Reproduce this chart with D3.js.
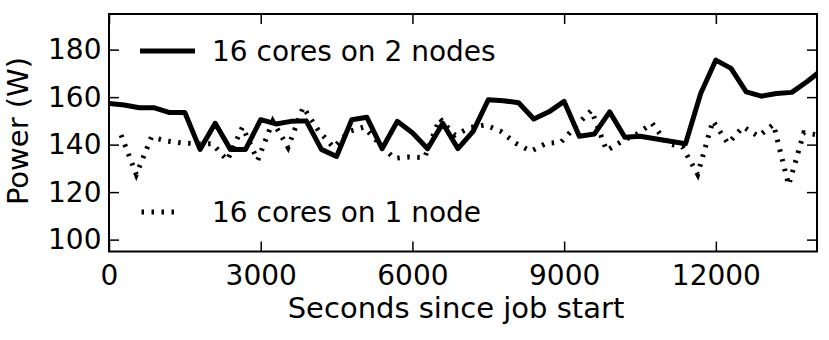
<!DOCTYPE html>
<html>
<head>
<style>
  body { margin: 0; background: #fff; }
  text { font-family: "DejaVu Sans", sans-serif; fill: #000; }
</style>
</head>
<body>
<script src="https://cdn.jsdelivr.net/npm/d3@7"></script>
<script>
// two-node run, sampled every 300 s
var timeTwoNodes = [0, 300, 600, 900, 1200, 1500, 1800, 2100, 2400, 2700, 3000, 3300,
    3600, 3900, 4200, 4500, 4800, 5100, 5400, 5700, 6000, 6300, 6600, 6900,
    7200, 7500, 7800, 8100, 8400, 8700, 9000, 9300, 9600, 9900, 10200, 10500,
    10800, 11100, 11400, 11700, 12000, 12300, 12600, 12900, 13200, 13500, 13800, 14100];
var powerTwoNodes = [157.3, 156.7, 155.5, 155.5, 153.5, 153.5, 138, 149, 138, 138, 150.5, 148.7,
    149.8, 150, 138, 135, 150.5, 151.5, 138.3, 149.8, 145, 138.3, 149, 138.3,
    145.6, 158.9, 158.5, 157.6, 150.8, 153.8, 158.2, 143.5, 144.5, 153.8, 143.1, 143.5,
    142.5, 141.4, 140.4, 161.5, 175.6, 172.1, 162.2, 160.4, 161.5, 162, 166.5, 171.5];

// one-node run
var timeOneNode = [240, 540, 840, 1140, 1440, 1740, 2040, 2340, 2640, 2940, 3240, 3540,
    3840, 4140, 4440, 4740, 5040, 5340, 5640, 5940, 6240, 6540, 6840, 7140,
    7440, 7740, 8040, 8340, 8640, 8940, 9240, 9540, 9840, 10140, 10440, 10740,
    11040, 11340, 11640, 11940, 12240, 12540, 12840, 13140, 13440, 13740, 14040];
var powerOneNode = [144, 127.4, 143.2, 141.5, 140.7, 140.4, 140.4, 133.4, 147.4, 133.4, 149.8, 138.8,
    155.8, 146, 138.8, 145.5, 147.4, 140.5, 134.2, 134.8, 134.5, 151, 144, 147.2,
    148.3, 145.7, 140.6, 137.2, 140.5, 141.1, 148, 154.5, 137.5, 141.4, 144.5, 149,
    140.5, 139, 127.5, 150, 140.5, 147.5, 143.5, 148.5, 123, 145, 144];

var xTicks = [0, 3000, 6000, 9000, 12000];
var yTicks = [100, 120, 140, 160, 180];
var labelTwoNodes = '16 cores on 2 nodes';
var labelOneNode = '16 cores on 1 node';

var W = 829, H = 340;
var margin = { left: 109, top: 14, right: 12, bottom: 88.5 };
var w = W - margin.left - margin.right, h = H - margin.top - margin.bottom;

var svg = d3.select('body').append('svg').attr('width', W).attr('height', H);
var g = svg.append('g').attr('transform', 'translate(' + margin.left + ',' + margin.top + ')');

var x = d3.scaleLinear().domain([0, 14000]).range([0, w]);
var y = d3.scaleLinear().domain([95, 195]).range([h, 0]);

g.append('clipPath').attr('id', 'clip')
    .append('rect').attr('width', w).attr('height', h);

var line = d3.line().x(function (d) { return x(d[0]); }).y(function (d) { return y(d[1]); });

g.append('path')
    .datum(d3.zip(timeOneNode, powerOneNode))
    .attr('clip-path', 'url(#clip)')
    .attr('d', line)
    .attr('fill', 'none').attr('stroke', '#000')
    .attr('stroke-width', 5).attr('stroke-dasharray', '2.5,7.5');

g.append('path')
    .datum(d3.zip(timeTwoNodes, powerTwoNodes))
    .attr('clip-path', 'url(#clip)')
    .attr('d', line)
    .attr('fill', 'none').attr('stroke', '#000')
    .attr('stroke-width', 5).attr('stroke-linejoin', 'round');

// axes, ticks pointing inward on all four sides
function style(sel, labels) {
    sel.select('.domain').remove();
    sel.selectAll('.tick line').attr('stroke', '#000').attr('stroke-width', 1.5);
    sel.selectAll('.tick text').style('font-size', labels ? '28px' : '0px')
        .style('font-family', '"DejaVu Sans", sans-serif');
}
g.append('g').attr('transform', 'translate(0,' + h + ')')
    .call(d3.axisBottom(x).tickValues(xTicks).tickFormat(d3.format('d'))
        .tickSizeInner(-10).tickSizeOuter(0).tickPadding(13.5))
    .call(style, true);
g.append('g')
    .call(d3.axisTop(x).tickValues(xTicks).tickSizeInner(-10).tickSizeOuter(0).tickFormat(''))
    .call(style, false);
g.append('g')
    .call(d3.axisLeft(y).tickValues(yTicks).tickFormat(d3.format('d'))
        .tickSizeInner(-10).tickSizeOuter(0).tickPadding(7.5))
    .call(style, true);
g.append('g').attr('transform', 'translate(' + w + ',0)')
    .call(d3.axisRight(y).tickValues(yTicks).tickSizeInner(-10).tickSizeOuter(0).tickFormat(''))
    .call(style, false);

g.append('rect').attr('width', w).attr('height', h)
    .attr('fill', 'none').attr('stroke', '#000').attr('stroke-width', 2);

// axis titles
svg.append('text')
    .attr('x', 456).attr('y', 318)
    .attr('text-anchor', 'middle')
    .style('font-size', '29px')
    .text('Seconds since job start');
svg.append('text')
    .attr('transform', 'translate(28,131) rotate(-90)')
    .attr('text-anchor', 'middle')
    .style('font-size', '29px')
    .text('Power (W)');

// legends
var leg = svg.append('g');
leg.append('line').attr('x1', 140).attr('x2', 195).attr('y1', 51).attr('y2', 51)
    .attr('stroke', '#000').attr('stroke-width', 5);
leg.append('text').attr('x', 212).attr('y', 61).style('font-size', '28px').text(labelTwoNodes);
leg.append('line').attr('x1', 141.5).attr('x2', 176).attr('y1', 212).attr('y2', 212)
    .attr('stroke', '#000').attr('stroke-width', 5).attr('stroke-dasharray', '2.5,7.5');
leg.append('text').attr('x', 212).attr('y', 222).style('font-size', '28px').text(labelOneNode);
</script>
</body>
</html>
